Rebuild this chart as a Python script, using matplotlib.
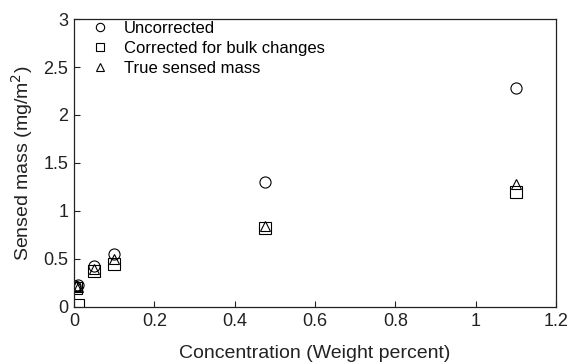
import numpy as np
import matplotlib.pyplot as plt

plt.rcParams['font.family'] = ['Liberation Sans', 'DejaVu Sans']

# Data
x_unc = np.array([0.002, 0.01, 0.05, 0.1, 0.475, 1.1])
y_unc = np.array([0.22, 0.23, 0.43, 0.55, 1.30, 2.28])

x_cor = np.array([0.005, 0.01, 0.05, 0.1, 0.475, 1.1])
y_cor = np.array([0.20, 0.02, 0.38, 0.45, 0.82, 1.20])

x_true = np.array([0.005, 0.01, 0.05, 0.1, 0.475, 1.1])
y_true = np.array([0.22, 0.21, 0.40, 0.50, 0.84, 1.28])

fig = plt.figure(figsize=(5.71, 3.64), dpi=100)
ax = fig.add_axes([0.1296, 0.1566, 0.8441, 0.7912])

mk = dict(linestyle='none', markerfacecolor='none', markeredgecolor='black',
          markeredgewidth=0.8)
ax.plot(x_unc, y_unc, marker='o', markersize=8, label='Uncorrected', **mk)
ax.plot(x_cor, y_cor, marker='s', markersize=8, label='Corrected for bulk changes', **mk)
ax.plot(x_true, y_true, marker='^', markersize=7, label='True sensed mass', **mk)

ax.set_xlim(0, 1.2)
ax.set_ylim(0, 3)
ax.set_xticks([0, 0.2, 0.4, 0.6, 0.8, 1, 1.2])
ax.set_xticklabels(['0', '0.2', '0.4', '0.6', '0.8', '1', '1.2'])
ax.set_yticks([0, 0.5, 1, 1.5, 2, 2.5, 3])
ax.set_yticklabels(['0', '0.5', '1', '1.5', '2', '2.5', '3'])
ax.tick_params(direction='in', length=4, width=0.8, labelsize=13, colors='#222222',
               pad=4)
for s in ax.spines.values():
    s.set_linewidth(0.9)
    s.set_color('#222222')

ax.set_xlabel('Concentration (Weight percent)', fontsize=14, color='#222222',
              labelpad=11)
ax.set_ylabel('Sensed mass (mg/m$^2$)', fontsize=14, color='#222222',
              labelpad=6)

leg = ax.legend(loc='upper left', bbox_to_anchor=(0.01, 1.033), frameon=False,
                fontsize=12, handletextpad=0.8, labelspacing=0.3, borderaxespad=0.3,
                handlelength=1.2, markerscale=0.75)

fig.savefig('out.png', dpi=100)
